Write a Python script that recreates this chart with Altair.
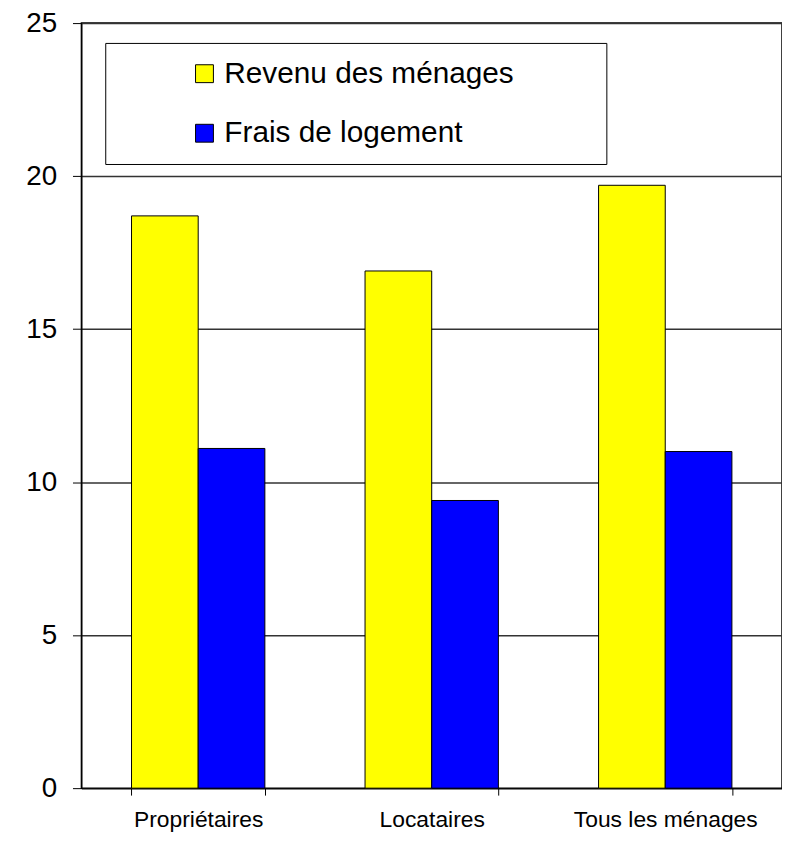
import altair as alt
import pandas as pd

categories = ["Propriétaires", "Locataires", "Tous les ménages"]
series = ["Revenu des ménages", "Frais de logement"]
revenu = [18.7, 16.9, 19.7]
frais = [11.1, 9.4, 11.0]
colors = ["#FFFF00", "#0000FF"]
y_ticks = [0, 5, 10, 15, 20, 25]

rows = []
for c, r, f in zip(categories, revenu, frais):
    rows.append({"cat": c, "serie": series[0], "val": r})
    rows.append({"cat": c, "serie": series[1], "val": f})
df = pd.DataFrame(rows)

FONT = "Liberation Sans"

chart = alt.Chart(df).mark_bar(stroke="black", strokeWidth=1).encode(
    x=alt.X(
        "cat:N",
        sort=categories,
        title=None,
        scale=alt.Scale(paddingInner=0.429, paddingOuter=0.2145),
        axis=alt.Axis(
            labelAngle=0, labelFontSize=23, labelFont=FONT, labelColor="black",
            labelLimit=400,
            tickSize=7, tickColor="black", domainColor="black", labelPadding=14,
            tickBand="extent", grid=False,
        ),
    ),
    xOffset=alt.XOffset("serie:N", sort=series, scale=alt.Scale(domain=series)),
    y=alt.Y(
        "val:Q",
        title=None,
        scale=alt.Scale(domain=[0, 25], nice=False),
        axis=alt.Axis(
            values=y_ticks, labelFontSize=28, labelFont=FONT, labelColor="black",
            tickSize=9, tickColor="black", domainColor="black", labelPadding=16,
            grid=True, gridColor="#333333", gridWidth=1.5,
        ),
    ),
    color=alt.Color(
        "serie:N",
        sort=series,
        scale=alt.Scale(domain=series, range=colors),
        legend=alt.Legend(
            title=None, orient="none", legendX=24, legendY=20,
            labelFontSize=30, labelFont=FONT, labelColor="black", labelLimit=1000,
            symbolType="square", symbolSize=324, symbolStrokeColor="black",
            symbolStrokeWidth=1, symbolOpacity=1, symbolOffset=69, labelOffset=5,
            rowPadding=30, padding=16, strokeColor="black", fillColor="white",
            labelExpr="datum.label + '\u2003\u2003\u00a0\u00a0\u200b'",
        ),
    ),
).properties(
    width=706,
    height=771,
    autosize="none",
    padding={"left": 74, "top": 12, "right": 0, "bottom": 44},
).configure_view(
    stroke="black", strokeWidth=1.5
)

chart.save("out.html", embed_options={"renderer": "svg", "actions": False})
